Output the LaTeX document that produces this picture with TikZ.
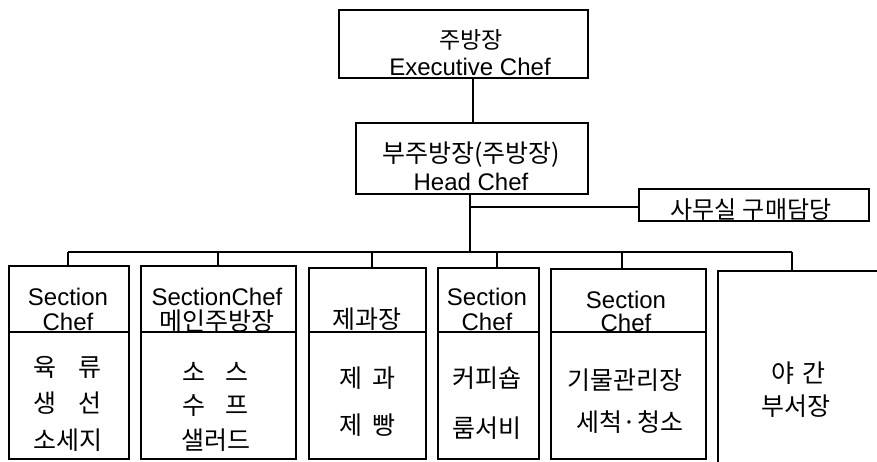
\documentclass[tikz,border=0pt]{standalone}
\usepackage{fontspec}
\setmainfont{Liberation Sans}
\newfontfamily\kr{Noto Sans CJK KR}
\begin{document}
\begin{tikzpicture}[x=1pt,y=-1pt,
  ln/.style={line width=2pt},
  bx/.style={draw, line width=2pt, rectangle, inner sep=0pt, anchor=north west},
  lat/.style={font=\fontsize{24}{26}\selectfont, inner sep=0pt},
  ko/.style={font=\kr\fontsize{25}{27}\selectfont, inner sep=0pt},
  kos/.style={font=\kr\fontsize{23}{25}\selectfont, inner sep=0pt},
  kom/.style={font=\kr\fontsize{24}{26}\selectfont, inner sep=0pt}]
\useasboundingbox (0,0) rectangle (877,461);
\clip (0,0) rectangle (877,461);
% top boxes
\node[bx, minimum width=249pt, minimum height=68pt] (exec) at (338,9) {};
\node[bx, minimum width=232pt, minimum height=71pt] (head) at (355,122) {};
\node[bx, minimum width=230pt, minimum height=32pt] (office) at (638,188) {};
\node[kos] (t1) at (471,40) {주방장};
\node[lat] (t2) at (470,67) {Executive Chef};
\node[ko] (t3) at (471,155) {부주방장(주방장)};
\node[lat] (t4) at (471,182) {Head Chef};
\node[kom] (t5) at (751,210) {사무실\hspace{6pt}구매담당};
% section boxes
\node[bx, minimum width=120pt, minimum height=193pt] (b1) at (8,265) {};
\node[bx, minimum width=155pt, minimum height=193pt] (b2) at (140,265) {};
\node[bx, minimum width=117pt, minimum height=191pt] (b3) at (308,267) {};
\node[bx, minimum width=101pt, minimum height=191pt] (b4) at (437,267) {};
\node[bx, minimum width=155pt, minimum height=190pt] (b5) at (550,268) {};
\node[bx, minimum width=200pt, minimum height=220pt] (b6) at (717,270) {};
% dividers
\foreach \b in {b1,b2,b3,b4,b5}{
  \draw[ln] (\b.west |- 0,332) -- (\b.east |- 0,332);
}
% connectors
\coordinate (busL) at (68,252);
\coordinate (busR) at (792,252);
\coordinate (hj) at (470,252);
\coordinate (oj) at (470,207);
\draw[ln] (exec.south -| 473,0) -- (head.north -| 473,0);
\draw[ln] (head.south -| hj) -- (hj);
\draw[ln] (oj) -- (office.west |- oj);
\draw[ln] (busL) -- (busR);
\draw[ln] (busL) -- (b1.north -| busL);
\draw[ln] (218,252) -- (b2.north -| 218,0);
\draw[ln] (372,252) -- (b3.north -| 372,0);
\draw[ln] (497,252) -- (b4.north -| 497,0);
\draw[ln] (622,252) -- (b5.north -| 622,0);
\draw[ln] (busR) -- (b6.north -| busR);
% box 1
\node[lat] (h1a) at (68,297) {Section};
\node[lat] (h1b) at (68,322) {Chef};
\node[ko] (c1a) at (67,367) {육\hspace{22pt}류};
\node[ko] (c1b) at (67,403) {생\hspace{22pt}선};
\node[ko] (c1c) at (68,440) {소세지};
% box 2
\node[lat] (h2a) at (217,297) {SectionChef};
\node[ko] (h2b) at (217,321) {메인주방장};
\node[ko] (c2a) at (215,372) {소\hspace{20pt}스};
\node[ko] (c2b) at (215,406) {수\hspace{20pt}프};
\node[ko] (c2c) at (216,440) {샐러드};
% box 3
\node[ko] (h3a) at (367,319) {제과장};
\node[ko] (c3a) at (367,378) {제\hspace{10pt}과};
\node[ko] (c3b) at (367,425) {제\hspace{10pt}빵};
% box 4
\node[lat] (h4a) at (487,297) {Section};
\node[lat] (h4b) at (487,322) {Chef};
\node[ko] (c4a) at (487,378) {커피숍};
\node[ko] (c4b) at (487,428) {룸서비};
% box 5
\node[lat] (h5a) at (626,300) {Section};
\node[lat] (h5b) at (626,323) {Chef};
\node[ko] (c5a) at (625,380) {기물관리장};
\node[ko] (c5b) at (630,422) {세척·청소};
% box 6
\node[ko] (c6a) at (798,373) {야\hspace{8pt}간};
\node[ko] (c6b) at (796,406) {부서장};
\end{tikzpicture}
\end{document}
